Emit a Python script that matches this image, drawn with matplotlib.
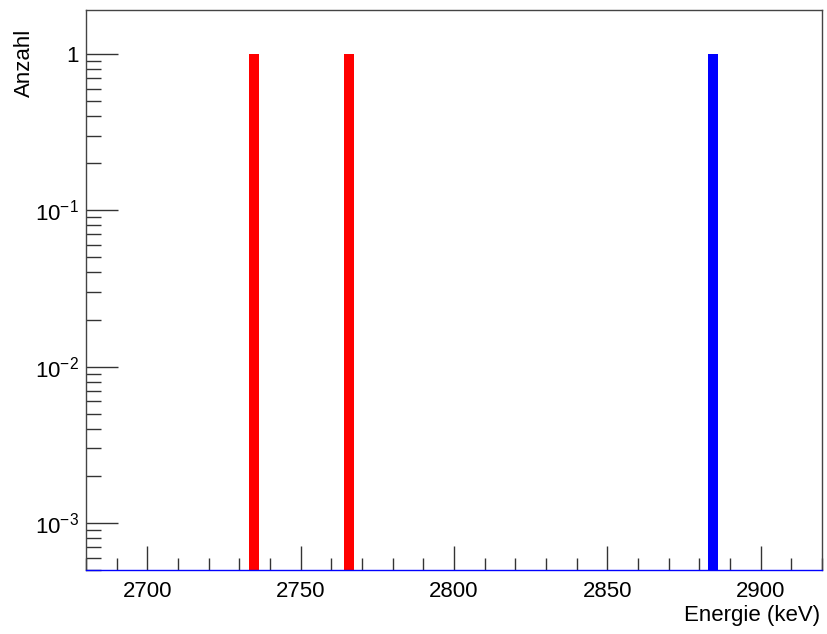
import math
import matplotlib
matplotlib.use("Agg")
import matplotlib.pyplot as plt
from matplotlib.ticker import FixedLocator, LogLocator, MultipleLocator, FuncFormatter, NullFormatter

plt.rcParams['font.family'] = ['Liberation Sans', 'DejaVu Sans']
plt.rcParams['mathtext.fontset'] = 'custom'
plt.rcParams['mathtext.rm'] = 'Liberation Sans'
plt.rcParams['mathtext.it'] = 'Liberation Sans'

# Data
red_energies = [2734.7, 2765.8]
red_counts = [1, 1]
blue_energies = [2884.5]
blue_counts = [1]
bar_width = 3.2
x_ticks = [2700, 2750, 2800, 2850, 2900]
y_ticks = [1e-3, 1e-2, 1e-1, 1]

fig = plt.figure(figsize=(8.27, 6.34), dpi=100)
ax = fig.add_axes([86/827, 1-570/634, (822-86)/827, (570-10)/634])

ax.set_yscale('log')
ymin = 5.0e-4
ax.bar(red_energies, red_counts, width=bar_width, bottom=1e-6, color='#ff0000', linewidth=0)
ax.bar(blue_energies, blue_counts, width=bar_width, bottom=1e-6, color='#0000ff', linewidth=0)

ax.set_xlim(2680, 2920)
ax.set_ylim(ymin, 1.91)

ax.xaxis.set_major_locator(FixedLocator(x_ticks))
ax.xaxis.set_minor_locator(MultipleLocator(10))
ax.yaxis.set_major_locator(FixedLocator(y_ticks))
ax.yaxis.set_minor_locator(LogLocator(base=10, subs=range(2, 10), numticks=20))
ax.yaxis.set_minor_formatter(NullFormatter())

def yfmt(v, pos):
    if abs(v - 1) < 1e-9:
        return "1"
    e = int(round(math.log10(v)))
    return r"$\mathregular{10^{%d}}$" % e
ax.yaxis.set_major_formatter(FuncFormatter(yfmt))

ax.tick_params(axis='x', which='major', direction='in', length=17, width=1, color='#333333',
               top=False, labelsize=16, pad=8)
ax.tick_params(axis='x', which='minor', direction='in', length=9, width=1, color='#333333', top=False)
ax.tick_params(axis='y', which='major', direction='in', length=23, width=1, color='#333333',
               right=False, labelsize=16, pad=5)
ax.tick_params(axis='y', which='minor', direction='in', length=11, width=1, color='#333333', right=False)

for s in ['left', 'top', 'right']:
    ax.spines[s].set_color('#444444')
    ax.spines[s].set_linewidth(1)
ax.spines['bottom'].set_color('#0000ff')
ax.spines['bottom'].set_linewidth(1)

fig.text(820/827, 1-615/634, "Energie (keV)", ha='right', va='center', fontsize=16)
fig.text(24/827, 1-29/634, "Anzahl", ha='center', va='top', rotation=90, fontsize=16)

fig.savefig("out.png", dpi=100)
